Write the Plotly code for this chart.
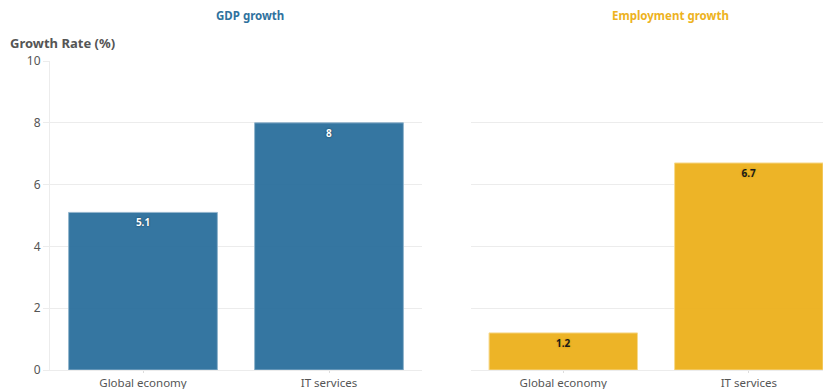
import plotly.graph_objects as go

categories = ["Global economy", "IT services"]
gdp_growth = [5.1, 8]
employment_growth = [1.2, 6.7]
y_ticks = [0, 2, 4, 6, 8, 10]

BLUE = "#2f729e"
YELLOW = "#edb221"
FONT = "Noto Sans"

OFF = 8  # default page body margin
W, H = 831 - OFF, 389 - OFF

fig = go.Figure()
fig.add_trace(go.Bar(
    x=categories, y=gdp_growth, xaxis="x", yaxis="y",
    marker=dict(color=BLUE, opacity=0.97, line=dict(color="#8fb3cc", width=1)),
    text=[f"{v:g}" for v in gdp_growth], textposition="inside",
    insidetextanchor="end",
    textfont=dict(family=FONT, size=10, color="white", weight="bold",
                  shadow="0px 0px 2px #14344a"),
    showlegend=False, hoverinfo="skip",
))
fig.add_trace(go.Bar(
    x=categories, y=employment_growth, xaxis="x2", yaxis="y2",
    marker=dict(color=YELLOW, opacity=0.97, line=dict(color="#f7d98a", width=1)),
    text=[f"{v:g}" for v in employment_growth], textposition="inside",
    insidetextanchor="end",
    textfont=dict(family=FONT, size=10, color="#1a1a1a", weight="bold",
                  shadow="0px 0px 2px #c99000"),
    showlegend=False, hoverinfo="skip",
))

def px(x):
    # screen x -> paper fraction
    return (x - OFF) / W

mt = 61 - OFF
mb = 19
left_dom = [px(50), px(422)]
right_dom = [px(470.5), 1.0]

grid = "#ececec"
tickfont = dict(family=FONT, size=12, color="#555555")
xtickfont = dict(family=FONT, size=11.5, color="#555555")

fig.update_layout(
    width=W, height=H,
    margin=dict(l=0, r=0, t=mt, b=mb),
    paper_bgcolor="white", plot_bgcolor="white",
    bargap=0.2,
    font=dict(family=FONT),
    xaxis=dict(domain=left_dom, range=[-0.5, 1.5], showgrid=False,
               ticks="outside", ticklen=2, tickcolor="#dddddd",
               showline=True, linecolor=grid, tickfont=xtickfont, zeroline=False,
               automargin=False),
    yaxis=dict(range=[0, 10], tickvals=y_ticks, showgrid=True, gridcolor=grid,
               ticks="outside", ticklen=6, tickcolor=grid, showline=True,
               linecolor=grid, tickfont=tickfont, zeroline=False,
               anchor="x", automargin=False),
    xaxis2=dict(domain=right_dom, range=[-0.5, 1.443], showgrid=False,
                ticks="outside", ticklen=2, tickcolor="#dddddd",
                showline=True, linecolor=grid, tickfont=xtickfont,
                zeroline=False, anchor="y2", automargin=False),
    yaxis2=dict(range=[0, 10], tickvals=y_ticks, showgrid=True, gridcolor=grid,
                showticklabels=False, showline=False, zeroline=False,
                anchor="x2", automargin=False),
)

plot_h = H - mt - mb

def py(yscreen):
    # screen y -> paper fraction (relative to plot area)
    yfig = yscreen - OFF
    return (H - mb - yfig) / plot_h

fig.update_layout(annotations=[
    dict(text="<b>GDP growth</b>", x=px(250), y=py(15), xref="paper",
         yref="paper", yanchor="middle", xanchor="center", showarrow=False,
         font=dict(family=FONT, size=11.5, color="#2f729e")),
    dict(text="<b>Employment growth</b>", x=px(670), y=py(15),
         xref="paper", yref="paper", yanchor="middle", xanchor="center",
         showarrow=False, font=dict(family=FONT, size=11.5, color=YELLOW)),
    dict(text="<b>Growth Rate (%)</b>", x=px(8), y=py(43),
         xref="paper", yref="paper", yanchor="middle", xanchor="left",
         showarrow=False, font=dict(family=FONT, size=13, color="#555555")),
])

fig.write_html("out.html")
